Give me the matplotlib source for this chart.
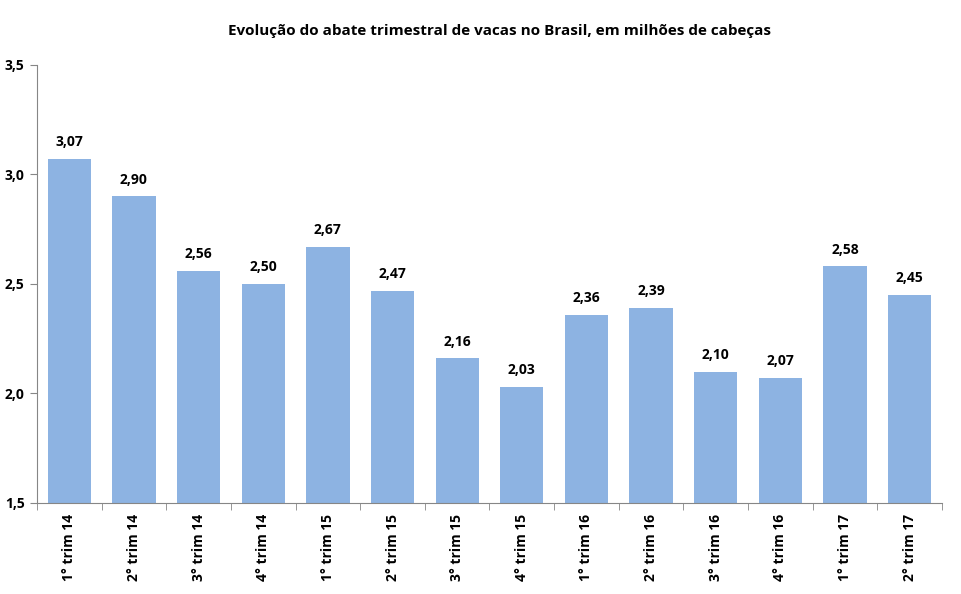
import matplotlib.pyplot as plt
import numpy as np

categories = ["1° trim 14", "2° trim 14", "3° trim 14", "4° trim 14",
              "1° trim 15", "2° trim 15", "3° trim 15", "4° trim 15",
              "1° trim 16", "2° trim 16", "3° trim 16", "4° trim 16",
              "1° trim 17", "2° trim 17"]
values = [3.07, 2.90, 2.56, 2.50, 2.67, 2.47, 2.16, 2.03,
          2.36, 2.39, 2.10, 2.07, 2.58, 2.45]
y_ticks = [1.5, 2.0, 2.5, 3.0, 3.5]

plt.rcParams['font.family'] = ['Open Sans', 'DejaVu Sans']

fig = plt.figure(figsize=(9.61, 5.94), dpi=100)
ax = fig.add_axes([0.0385, 0.1532, 0.9417, 0.7374])

x = np.arange(len(categories))
ax.bar(x, values, width=0.67, color="#8DB3E2", zorder=2)

for xi, v in zip(x, values):
    ax.annotate(f"{v:.2f}".replace(".", ","), (xi, v), xytext=(0, 7),
                textcoords="offset points", ha="center", va="bottom",
                fontsize=10, fontweight="bold")

ax.set_xlim(-0.5, len(categories) - 0.5)
ax.set_ylim(1.5, 3.5)
ax.set_yticks(y_ticks)
ax.set_yticklabels([f"{t:.1f}".replace(".", ",") for t in y_ticks],
                   fontsize=10, fontweight="bold")

ax.set_xticks(x)
ax.set_xticklabels(categories, rotation=90, fontsize=10, fontweight="bold")
ax.tick_params(axis="x", length=0, pad=8)
ax.set_xticks(np.arange(len(categories) + 1) - 0.5, minor=True)
ax.tick_params(axis="x", which="minor", length=5, color="#868686", direction="out")
ax.tick_params(axis="y", length=5, color="#868686", direction="out", pad=4)

for side in ["top", "right"]:
    ax.spines[side].set_visible(False)
for side in ["left", "bottom"]:
    ax.spines[side].set_color("#868686")

fig.text(0.52, 0.948, "Evolução do abate trimestral de vacas no Brasil, em milhões de cabeças",
         ha="center", va="center", fontsize=11, fontweight="bold")

fig.savefig("out.png", dpi=100)
